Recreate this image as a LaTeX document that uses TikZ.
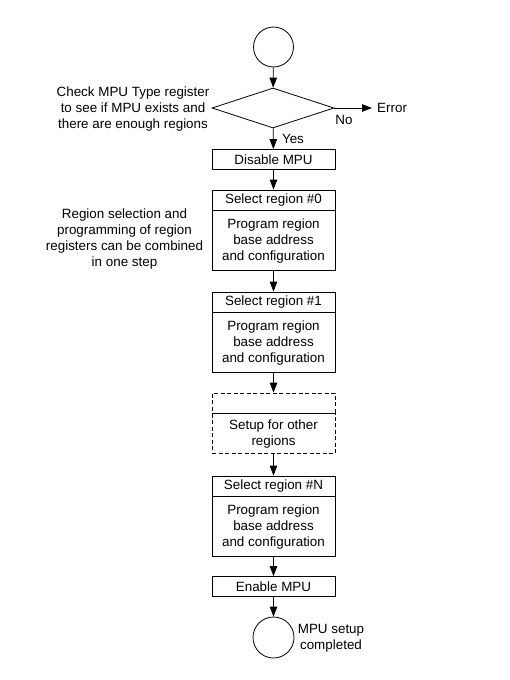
\documentclass[tikz,border=0pt]{standalone}
\usepackage{fontspec}
\setmainfont{Liberation Sans}
\usetikzlibrary{shapes.geometric,arrows.meta}

\tikzset{
  box/.style={draw, line width=0.8pt, minimum width=123, minimum height=20, inner sep=0pt},
  body/.style={box, minimum height=60, align=center},
  dashbox/.style={dash pattern=on 4pt off 2.5pt},
  arr/.style={-{Triangle[length=10pt,width=7.5pt]}, line width=0.8pt},
}

\begin{document}
\begin{tikzpicture}[x=1pt, y=-1pt, font=\fontsize{13.4}{16}\selectfont]
      \useasboundingbox (0,0) rectangle (510,680);

      % start and check
      \node[circle, minimum size=40, draw, line width=0.8pt] (start) at (273.5, 47) {};
      \node[diamond, draw, line width=0.8pt, inner sep=0pt, minimum width=122, minimum height=40] (check) at (273, 108) {};
      \node[align=center] (checktxt) at (133, 109) {Check MPU Type register\\to see if MPU exists and\\there are enough regions};
      \node[anchor=west, inner xsep=5pt] (error) at (372, 108) {Error};
      \node (no) at (344, 120) {No};
      \node (yes) at (293, 139) {Yes};

      % regions
      \node[box] (disable) at (273.5, 159.5) {Disable MPU};
      \node[box] (sel0) at (273.5, 200) {Select region \#0};
      \node[body, anchor=north] (prog0) at (sel0.south) {Program region\\base address\\and configuration};
      \node[align=center] (note) at (124.5, 239.5) {Region selection and\\programming of region\\registers can be combined\\in one step};

      \node[box] (sel1) at (273.5, 302) {Select region \#1};
      \node[body, anchor=north] (prog1) at (sel1.south) {Program region\\base address\\and configuration};

      \node[box, dashbox] (other) at (273.5, 403) {};
      \node[body, dashbox, minimum height=40, anchor=north] (othertxt) at (other.south) {Setup for other\\regions};

      \node[box] (selN) at (273.5, 486) {Select region \#N};
      \node[body, anchor=north] (progN) at (selN.south) {Program region\\base address\\and configuration};

      \node[box] (enable) at (273.5, 586.5) {Enable MPU};
      \node[circle, minimum size=41, draw, line width=0.8pt] (done) at (273.5, 637.5) {};
      \node[align=center] (donetxt) at (331, 638) {MPU setup\\completed};

      % arrows
      \draw[arr] (start) -- (check);
      \draw[arr] (check.east) -- (error.west);
      \draw[arr] (check) -- (disable);
      \draw[arr] (disable) -- (sel0);
      \draw[arr] (prog0) -- (sel1);
      \draw[arr] (prog1) -- (other);
      \draw[arr] (othertxt) -- (selN);
      \draw[arr] (progN) -- (enable);
      \draw[arr] (enable) -- (done);
    \end{tikzpicture}
\end{document}
